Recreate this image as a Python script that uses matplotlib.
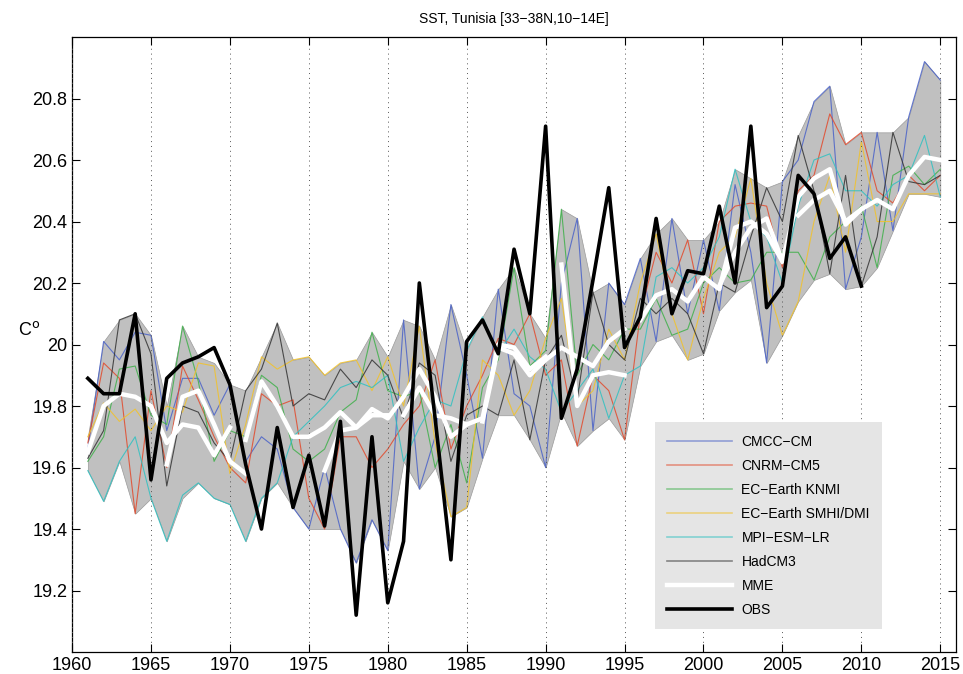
import matplotlib
matplotlib.use("Agg")
import matplotlib.pyplot as plt
from matplotlib.lines import Line2D
from matplotlib import font_manager
import numpy as np

plt.rcParams['font.family'] = ['Liberation Sans', 'DejaVu Sans']

years = list(range(1961, 2016))
obs_years = list(range(1961, 2011))

env_upper = [19.70, 20.01, 20.08, 20.10, 20.03, 19.80, 20.06, 19.96, 19.94, 19.87,
             19.85, 19.96, 20.07, 19.95, 19.96, 19.90, 19.94, 19.95, 20.04, 19.96,
             20.08, 20.06, 19.95, 20.13, 19.98, 20.09, 20.18, 20.25, 20.10, 20.02,
             20.44, 20.41, 20.17, 20.20, 20.13, 20.28, 20.36, 20.41, 20.34, 20.34,
             20.40, 20.57, 20.54, 20.51, 20.53, 20.68, 20.79, 20.84, 20.65, 20.69,
             20.69, 20.69, 20.74, 20.92, 20.86]
env_lower = [19.59, 19.49, 19.62, 19.45, 19.50, 19.36, 19.50, 19.55, 19.50, 19.48,
             19.36, 19.50, 19.55, 19.47, 19.40, 19.40, 19.40, 19.29, 19.43, 19.33,
             19.62, 19.53, 19.60, 19.44, 19.47, 19.63, 19.77, 19.77, 19.69, 19.60,
             19.78, 19.67, 19.72, 19.76, 19.69, 19.93, 20.01, 20.03, 19.95, 19.97,
             20.11, 20.17, 20.21, 19.94, 20.03, 20.14, 20.21, 20.23, 20.18, 20.19,
             20.25, 20.37, 20.49, 20.49, 20.48]

cmcc = [19.66, 20.01, 19.95, 20.04, 20.03, 19.72, 19.89, 19.89, 19.77, 19.87,
        19.62, 19.70, 19.66, 19.47, 19.40, 19.60, 19.40, 19.29, 19.43, 19.33,
        20.08, 19.53, 19.70, 20.13, 19.90, 19.63, 20.18, 19.84, 19.80, 19.60,
        20.20, 20.41, 19.72, 20.20, 20.13, 20.28, 20.01, 20.41, 20.10, 20.34,
        20.11, 20.52, 20.30, 19.94, 20.53, 20.60, 20.79, 20.84, 20.18, 20.35,
        20.69, 20.37, 20.74, 20.92, 20.86]
cnrm = [19.68, 19.94, 19.89, 19.45, 19.85, 19.60, 19.93, 19.82, 19.70, 19.60,
        19.55, 19.84, 19.80, 19.82, 19.50, 19.40, 19.70, 19.70, 19.60, 19.66,
        19.74, 19.80, 19.95, 19.66, 19.80, 19.90, 20.02, 20.00, 20.10, 19.90,
        19.95, 19.67, 19.90, 19.85, 19.69, 20.10, 20.30, 20.20, 20.34, 20.10,
        20.40, 20.45, 20.46, 20.45, 20.25, 20.50, 20.55, 20.75, 20.65, 20.69,
        20.50, 20.46, 20.55, 20.50, 20.55]
knmi = [19.62, 19.70, 19.92, 19.93, 19.77, 19.74, 20.06, 19.88, 19.62, 19.72,
        19.70, 19.90, 19.86, 19.66, 19.62, 19.66, 19.78, 19.82, 20.04, 19.85,
        19.83, 19.85, 19.60, 19.74, 19.55, 19.86, 19.95, 20.25, 19.93, 19.98,
        20.44, 19.90, 20.00, 19.95, 20.05, 20.05, 20.15, 20.03, 20.05, 20.20,
        20.25, 20.20, 20.21, 20.30, 20.30, 20.30, 20.21, 20.35, 20.40, 20.45,
        20.25, 20.55, 20.58, 20.52, 20.57]
smhi = [19.70, 19.81, 19.75, 19.79, 19.72, 19.80, 19.78, 19.94, 19.93, 19.58,
        19.74, 19.96, 19.92, 19.95, 19.96, 19.90, 19.94, 19.95, 19.85, 19.96,
        19.80, 20.06, 19.68, 19.44, 19.47, 19.95, 19.90, 19.77, 19.85, 20.02,
        20.15, 19.80, 19.85, 20.05, 19.95, 20.20, 20.36, 20.10, 19.95, 20.15,
        20.30, 20.35, 20.54, 20.20, 20.03, 20.14, 20.40, 20.55, 20.30, 20.66,
        20.40, 20.40, 20.49, 20.49, 20.49]
mpi = [19.59, 19.49, 19.62, 19.70, 19.50, 19.36, 19.51, 19.55, 19.50, 19.48,
       19.36, 19.50, 19.55, 19.70, 19.75, 19.80, 19.86, 19.88, 19.86, 19.90,
       19.62, 19.73, 19.82, 19.80, 19.98, 20.09, 19.97, 20.05, 19.96, 19.92,
       19.78, 19.85, 19.92, 19.76, 19.90, 19.93, 20.22, 20.25, 20.20, 20.25,
       20.35, 20.57, 20.40, 20.35, 20.20, 20.45, 20.60, 20.62, 20.50, 20.50,
       20.45, 20.52, 20.55, 20.68, 20.48]
hadcm3 = [19.63, 19.72, 20.08, 20.10, 19.97, 19.54, 19.80, 19.78, 19.68, 19.62,
          19.85, 19.92, 20.07, 19.80, 19.84, 19.82, 19.92, 19.86, 19.95, 19.90,
          19.76, 19.94, 19.90, 19.62, 19.77, 19.80, 19.77, 19.95, 19.69, 19.95,
          20.03, 19.82, 20.17, 20.00, 19.95, 20.15, 20.10, 20.15, 20.10, 19.97,
          20.20, 20.17, 20.35, 20.51, 20.40, 20.68, 20.50, 20.23, 20.55, 20.19,
          20.35, 20.69, 20.53, 20.52, 20.55]

mme_starts = [1961, 1966, 1971, 1976, 1981, 1986, 1991, 1996, 2001, 2006]
mme_1961 = [19.65, 19.80, 19.84, 19.83, 19.80, 19.68, 19.74, 19.73, 19.64, 19.73]
mme_1966 = [19.61, 19.83, 19.85, 19.74, 19.62, 19.58]
mme_1971 = [19.69, 19.88, 19.80, 19.70, 19.70, 19.73, 19.78, 19.73, 19.77, 19.77]
mme_1976 = [19.59, 19.72, 19.73, 19.79, 19.76, 19.83, 19.92, 19.83, 19.70, 19.74]
mme_1981 = [19.77, 19.86, 19.77, 19.76, 19.74, 19.76, 20.00, 19.99, 19.92, 19.96]
mme_1986 = [19.75, 19.99, 19.97, 19.90, 19.95, 19.99, 19.96, 19.93, 20.01, 20.05]
mme_1991 = [20.26, 19.80, 19.90, 19.91, 19.90]
mme_1996 = [20.08, 20.16, 20.18, 20.14, 20.22, 20.18, 20.38, 20.40, 20.36, 20.27]
mme_2001 = [20.19, 20.30, 20.38, 20.41, 20.27, 20.48, 20.54, 20.57, 20.39, 20.44]
mme_2006 = [20.42, 20.47, 20.50, 20.40, 20.44, 20.47, 20.44, 20.55, 20.61, 20.60]
mme_segments = [mme_1961, mme_1966, mme_1971, mme_1976, mme_1981,
                mme_1986, mme_1991, mme_1996, mme_2001, mme_2006]

obs = [19.89, 19.84, 19.84, 20.10, 19.56, 19.89, 19.94, 19.96, 19.99, 19.87,
       19.61, 19.40, 19.73, 19.47, 19.64, 19.41, 19.75, 19.12, 19.70, 19.16,
       19.36, 20.20, 19.76, 19.30, 20.01, 20.08, 19.97, 20.31, 20.10, 20.71,
       19.76, 19.92, 20.21, 20.51, 19.99, 20.09, 20.41, 20.10, 20.24, 20.23,
       20.45, 20.20, 20.71, 20.12, 20.19, 20.55, 20.49, 20.28, 20.35, 20.19]

model_names = ['CMCC\u2212CM', 'CNRM\u2212CM5', 'EC\u2212Earth KNMI',
               'EC\u2212Earth SMHI/DMI', 'MPI\u2212ESM\u2212LR', 'HadCM3']
model_data = [cmcc, cnrm, knmi, smhi, mpi, hadcm3]
model_colors = ['#4a62c8', '#e24a2c', '#3fb04a', '#f2c22a', '#30c0c0', '#333333']

xticks = list(range(1960, 2016, 5))
yticks = [19.2, 19.4, 19.6, 19.8, 20.0, 20.2, 20.4, 20.6, 20.8]
ytick_labels = ['19.2', '19.4', '19.6', '19.8', '20', '20.2', '20.4', '20.6', '20.8']

fig = plt.figure(figsize=(9.63, 6.74), dpi=100)
ax = fig.add_axes([0.0748, 0.0326, 0.918, 0.9125])

ax.fill_between(years, env_lower, env_upper, facecolor='#c0c0c0',
                edgecolor='#9a9a9a', linewidth=0.5, zorder=1)

handles = []
for name, data, col in zip(model_names, model_data, model_colors):
    ax.plot(years, data, color=col, lw=0.8, alpha=0.85, zorder=2)
    handles.append(Line2D([], [], color=col, lw=1.2, alpha=0.55, label=name))

for start, seg in zip(mme_starts, mme_segments):
    yrs = list(range(start, start + len(seg)))
    ax.plot(yrs, seg, color='white', lw=3.2, zorder=3)
handles.append(Line2D([], [], color='white', lw=3.2, label='MME'))

ax.plot(obs_years, obs, color='black', lw=2.6, zorder=4)
handles.append(Line2D([], [], color='black', lw=2.6, label='OBS'))

ax.set_xlim(1960, 2016)
ax.set_ylim(19.0, 21.0)
ax.set_xticks(xticks)
ax.set_yticks(yticks)
ax.set_yticklabels(ytick_labels)
ax.tick_params(axis='both', direction='in', top=True, right=True,
               length=6, width=0.8, labelsize=13, colors='black')
ax.xaxis.grid(True, linestyle=(0, (1, 4)), color='#555555', linewidth=0.7)
ax.set_axisbelow(False)
for sp in ax.spines.values():
    sp.set_linewidth(0.9)

installed = {f.name for f in font_manager.fontManager.ttflist}
title_family = ['Liberation Sans Narrow', 'Liberation Sans'] if 'Liberation Sans Narrow' in installed else ['Liberation Sans']
title_size = 11.5 if 'Liberation Sans Narrow' in installed else 10
ax.set_title('SST, Tunisia [33\u221238N,10\u221214E]', fontsize=title_size,
             family=title_family, pad=10)
fig.text(0.03, 0.51, r'C$^{\mathrm{o}}$', fontsize=13, ha='center', va='center')

leg = ax.legend(handles=handles, loc='upper left', bbox_to_anchor=(0.659, 0.374),
                borderaxespad=0, frameon=True, fancybox=False, facecolor='#e5e5e5',
                edgecolor='none', framealpha=1, fontsize=10, handlelength=4.7,
                handletextpad=0.65, labelspacing=0.72, borderpad=0.9)
leg.set_zorder(10)

fig.savefig('out.png', dpi=100)
